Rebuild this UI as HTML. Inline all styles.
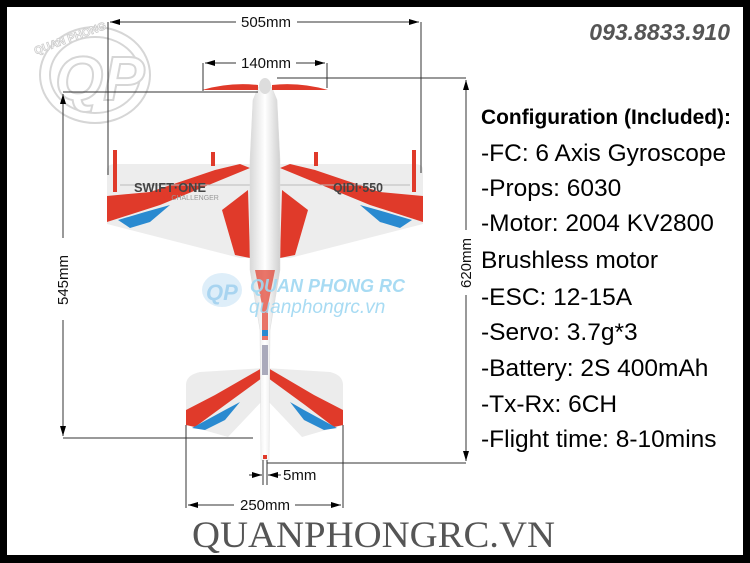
<!DOCTYPE html>
<html><head><meta charset="utf-8"><style>
html,body{margin:0;padding:0;background:#000;}
svg{display:block}
</style></head><body>
<svg width="750" height="563" viewBox="0 0 750 563" xmlns="http://www.w3.org/2000/svg">
<defs>
<marker id="a" viewBox="0 0 10 6" refX="10" refY="3" markerWidth="10" markerHeight="6" orient="auto-start-reverse" markerUnits="userSpaceOnUse"><path d="M0,0L10,3L0,6z" fill="#000"/></marker>
<linearGradient id="fus" x1="0" x2="1"><stop offset="0" stop-color="#d8d8d8"/><stop offset="0.5" stop-color="#fff"/><stop offset="1" stop-color="#d0d0d0"/></linearGradient>
</defs>
<rect x="0" y="0" width="750" height="563" fill="#000"/>
<rect x="7" y="7" width="736" height="548" fill="#fff"/>

<!-- top-left watermark logo -->
<g fill="none" stroke="#d6d6d6" stroke-width="2">
<ellipse cx="95" cy="75" rx="55" ry="48"/>
<ellipse cx="95" cy="75" rx="45" ry="38"/>
<text x="55" y="100" font-family="Liberation Sans,sans-serif" font-style="italic" font-weight="bold" font-size="62" fill="#fff">QP</text>
</g>
<text x="30" y="38" font-family="Liberation Sans,sans-serif" font-size="11" font-weight="bold" fill="#fff" stroke="#ccc" stroke-width="0.8" transform="rotate(-20 80 30)">QUAN PHONG</text>

<!-- wing -->
<path d="M107,170 Q107,164 115,164 L250,164 L280,164 L415,164 Q423,164 423,170 L423,224 L290,258 L240,258 L107,224 Z" fill="#ededed"/>
<path d="M107,196 L150,192 L215,170 L240,164 L250,168 L160,205 L107,222 Z" fill="#e03a2a"/>
<path d="M423,196 L380,192 L315,170 L290,164 L280,168 L370,205 L423,222 Z" fill="#e03a2a"/>
<path d="M118,220 L145,212 L170,205 L150,222 L130,228 Z" fill="#2a8ad0"/>
<path d="M412,220 L385,212 L360,205 L380,222 L400,228 Z" fill="#2a8ad0"/>
<path d="M222,210 L248,190 L250,258 L235,255 Z" fill="#e03a2a"/>
<path d="M308,210 L282,190 L280,258 L295,255 Z" fill="#e03a2a"/>
<path d="M120,185 L250,185" stroke="#bbb" stroke-width="1"/>
<path d="M280,185 L410,185" stroke="#bbb" stroke-width="1"/>
<path d="M113,150 L117,150 L117,192 L113,192Z" fill="#e03a2a"/>
<path d="M412,150 L416,150 L416,192 L412,192Z" fill="#e03a2a"/>
<path d="M211,152 L215,152 L215,166 L211,166Z" fill="#e03a2a"/>
<path d="M314,152 L318,152 L318,166 L314,166Z" fill="#e03a2a"/>
<text x="134" y="192" font-family="Liberation Sans,sans-serif" font-weight="bold" font-size="13" fill="#444" textLength="72" lengthAdjust="spacingAndGlyphs">SWIFT·ONE</text>
<text x="157" y="200" font-family="Liberation Sans,sans-serif" font-weight="bold" font-size="7" fill="#e03a2a">SKY<tspan fill="#999" font-weight="normal">CHALLENGER</tspan></text>
<text x="333" y="192" font-family="Liberation Sans,sans-serif" font-weight="bold" font-size="13" fill="#444" textLength="50" lengthAdjust="spacingAndGlyphs">QIDI·550</text>

<!-- tail -->
<path d="M265,368 L330,372 Q343,375 343,385 L343,425 L302,437 L267,400 L263,400 L228,437 L186,425 L186,385 Q186,375 200,372 Z" fill="#ececec"/>
<path d="M186,410 L215,395 L262,368 L262,378 L225,405 L195,427 L186,425Z" fill="#e03a2a"/>
<path d="M343,410 L314,395 L268,368 L268,378 L305,405 L334,427 L343,425Z" fill="#e03a2a"/>
<path d="M192,428 L225,410 L240,402 L225,420 L205,430Z" fill="#2a8ad0"/>
<path d="M337,428 L304,410 L290,402 L304,420 L324,430Z" fill="#2a8ad0"/>

<!-- fuselage -->
<path d="M258,88 Q265,78 272,88 L277,100 L280,160 L280,270 L270,330 L269,460 L261,460 L260,330 L250,270 L250,160 L253,100 Z" fill="url(#fus)" stroke="#ddd" stroke-width="0.5"/>
<path d="M255,270 L262,305 L262,340 L268,340 L268,305 L275,270 Z" fill="#e03a2a" opacity="0.7"/>
<rect x="262" y="330" width="6" height="6" fill="#2a8ad0"/>
<rect x="262" y="345" width="6" height="30" fill="#aab"/>
<rect x="263" y="455" width="4" height="4" fill="#e03a2a"/>
<!-- prop -->
<path d="M202,90 Q230,82 258,85 L258,90 Z" fill="#e03a2a"/>
<path d="M328,90 Q300,82 272,85 L272,90 Z" fill="#e03a2a"/>
<ellipse cx="265" cy="86" rx="6" ry="8" fill="#ddd"/>

<!-- dimension lines -->
<g stroke="#333" stroke-width="1" fill="none">
<line x1="108" y1="22" x2="108" y2="175"/>
<line x1="421" y1="22" x2="421" y2="173"/>
<line x1="110" y1="22" x2="236" y2="22" marker-start="url(#a)"/>
<line x1="297" y1="22" x2="419" y2="22" marker-end="url(#a)"/>
<line x1="203" y1="63" x2="203" y2="91"/>
<line x1="327" y1="63" x2="327" y2="88"/>
<line x1="205" y1="63" x2="236" y2="63" marker-start="url(#a)"/>
<line x1="296" y1="63" x2="325" y2="63" marker-end="url(#a)"/>
<line x1="63" y1="92" x2="258" y2="92"/>
<line x1="63" y1="438" x2="253" y2="438"/>
<line x1="63" y1="94" x2="63" y2="238" marker-start="url(#a)"/>
<line x1="63" y1="320" x2="63" y2="436" marker-end="url(#a)"/>
<line x1="277" y1="78" x2="466" y2="78"/>
<line x1="267" y1="463" x2="466" y2="463"/>
<line x1="466" y1="80" x2="466" y2="230" marker-start="url(#a)"/>
<line x1="466" y1="295" x2="466" y2="461" marker-end="url(#a)"/>
<line x1="263" y1="460" x2="263" y2="485"/>
<line x1="267" y1="460" x2="267" y2="485"/>
<line x1="249" y1="475" x2="262" y2="475" marker-end="url(#a)"/>
<line x1="281" y1="475" x2="268" y2="475" marker-end="url(#a)"/>
<line x1="186" y1="425" x2="186" y2="508"/>
<line x1="343" y1="425" x2="343" y2="508"/>
<line x1="188" y1="505" x2="234" y2="505" marker-start="url(#a)"/>
<line x1="295" y1="505" x2="341" y2="505" marker-end="url(#a)"/>
</g>
<g font-family="Liberation Sans,sans-serif" font-size="15" fill="#111">
<text x="266" y="27" text-anchor="middle">505mm</text>
<text x="266" y="68" text-anchor="middle">140mm</text>
<text x="283" y="480">5mm</text>
<text x="265" y="510" text-anchor="middle">250mm</text>
<text transform="translate(68,280) rotate(-90)" text-anchor="middle">545mm</text>
<text transform="translate(471,263) rotate(-90)" text-anchor="middle">620mm</text>
</g>

<!-- center watermark -->
<ellipse cx="222" cy="290" rx="20" ry="17" fill="#d6eaf8" opacity="0.8"/>
<text x="206" y="300" font-family="Liberation Sans,sans-serif" font-style="italic" font-weight="bold" font-size="22" fill="#a8d4f0">QP</text>
<text x="250" y="292" font-family="Liberation Sans,sans-serif" font-style="italic" font-weight="bold" font-size="18" fill="#9fd8f2" opacity="0.9">QUAN PHONG RC</text>
<text x="249" y="313" font-family="Liberation Sans,sans-serif" font-style="italic" font-size="19" fill="#9fd8f2" opacity="0.9">quanphongrc.vn</text>

<!-- right text -->
<text x="730" y="40" text-anchor="end" font-family="Liberation Sans,sans-serif" font-style="italic" font-weight="bold" font-size="23" fill="#555">093.8833.910</text>
<text x="481" y="124" font-family="Liberation Sans,sans-serif" font-weight="bold" font-size="21" fill="#000" textLength="250" lengthAdjust="spacingAndGlyphs">Configuration (Included):</text>
<g font-family="Liberation Sans,sans-serif" font-size="24.5" fill="#000">
<text x="481" y="161">-FC: 6 Axis Gyroscope</text>
<text x="481" y="196">-Props: 6030</text>
<text x="481" y="231">-Motor: 2004 KV2800</text>
<text x="481" y="268">Brushless motor</text>
<text x="481" y="305">-ESC: 12-15A</text>
<text x="481" y="340">-Servo: 3.7g*3</text>
<text x="481" y="376">-Battery: 2S 400mAh</text>
<text x="481" y="412">-Tx-Rx: 6CH</text>
<text x="481" y="447">-Flight time: 8-10mins</text>
</g>
<text x="192" y="547" font-family="Liberation Serif,serif" font-size="37" fill="#555" textLength="363" lengthAdjust="spacingAndGlyphs">QUANPHONGRC.VN</text>
</svg>
</body></html>
